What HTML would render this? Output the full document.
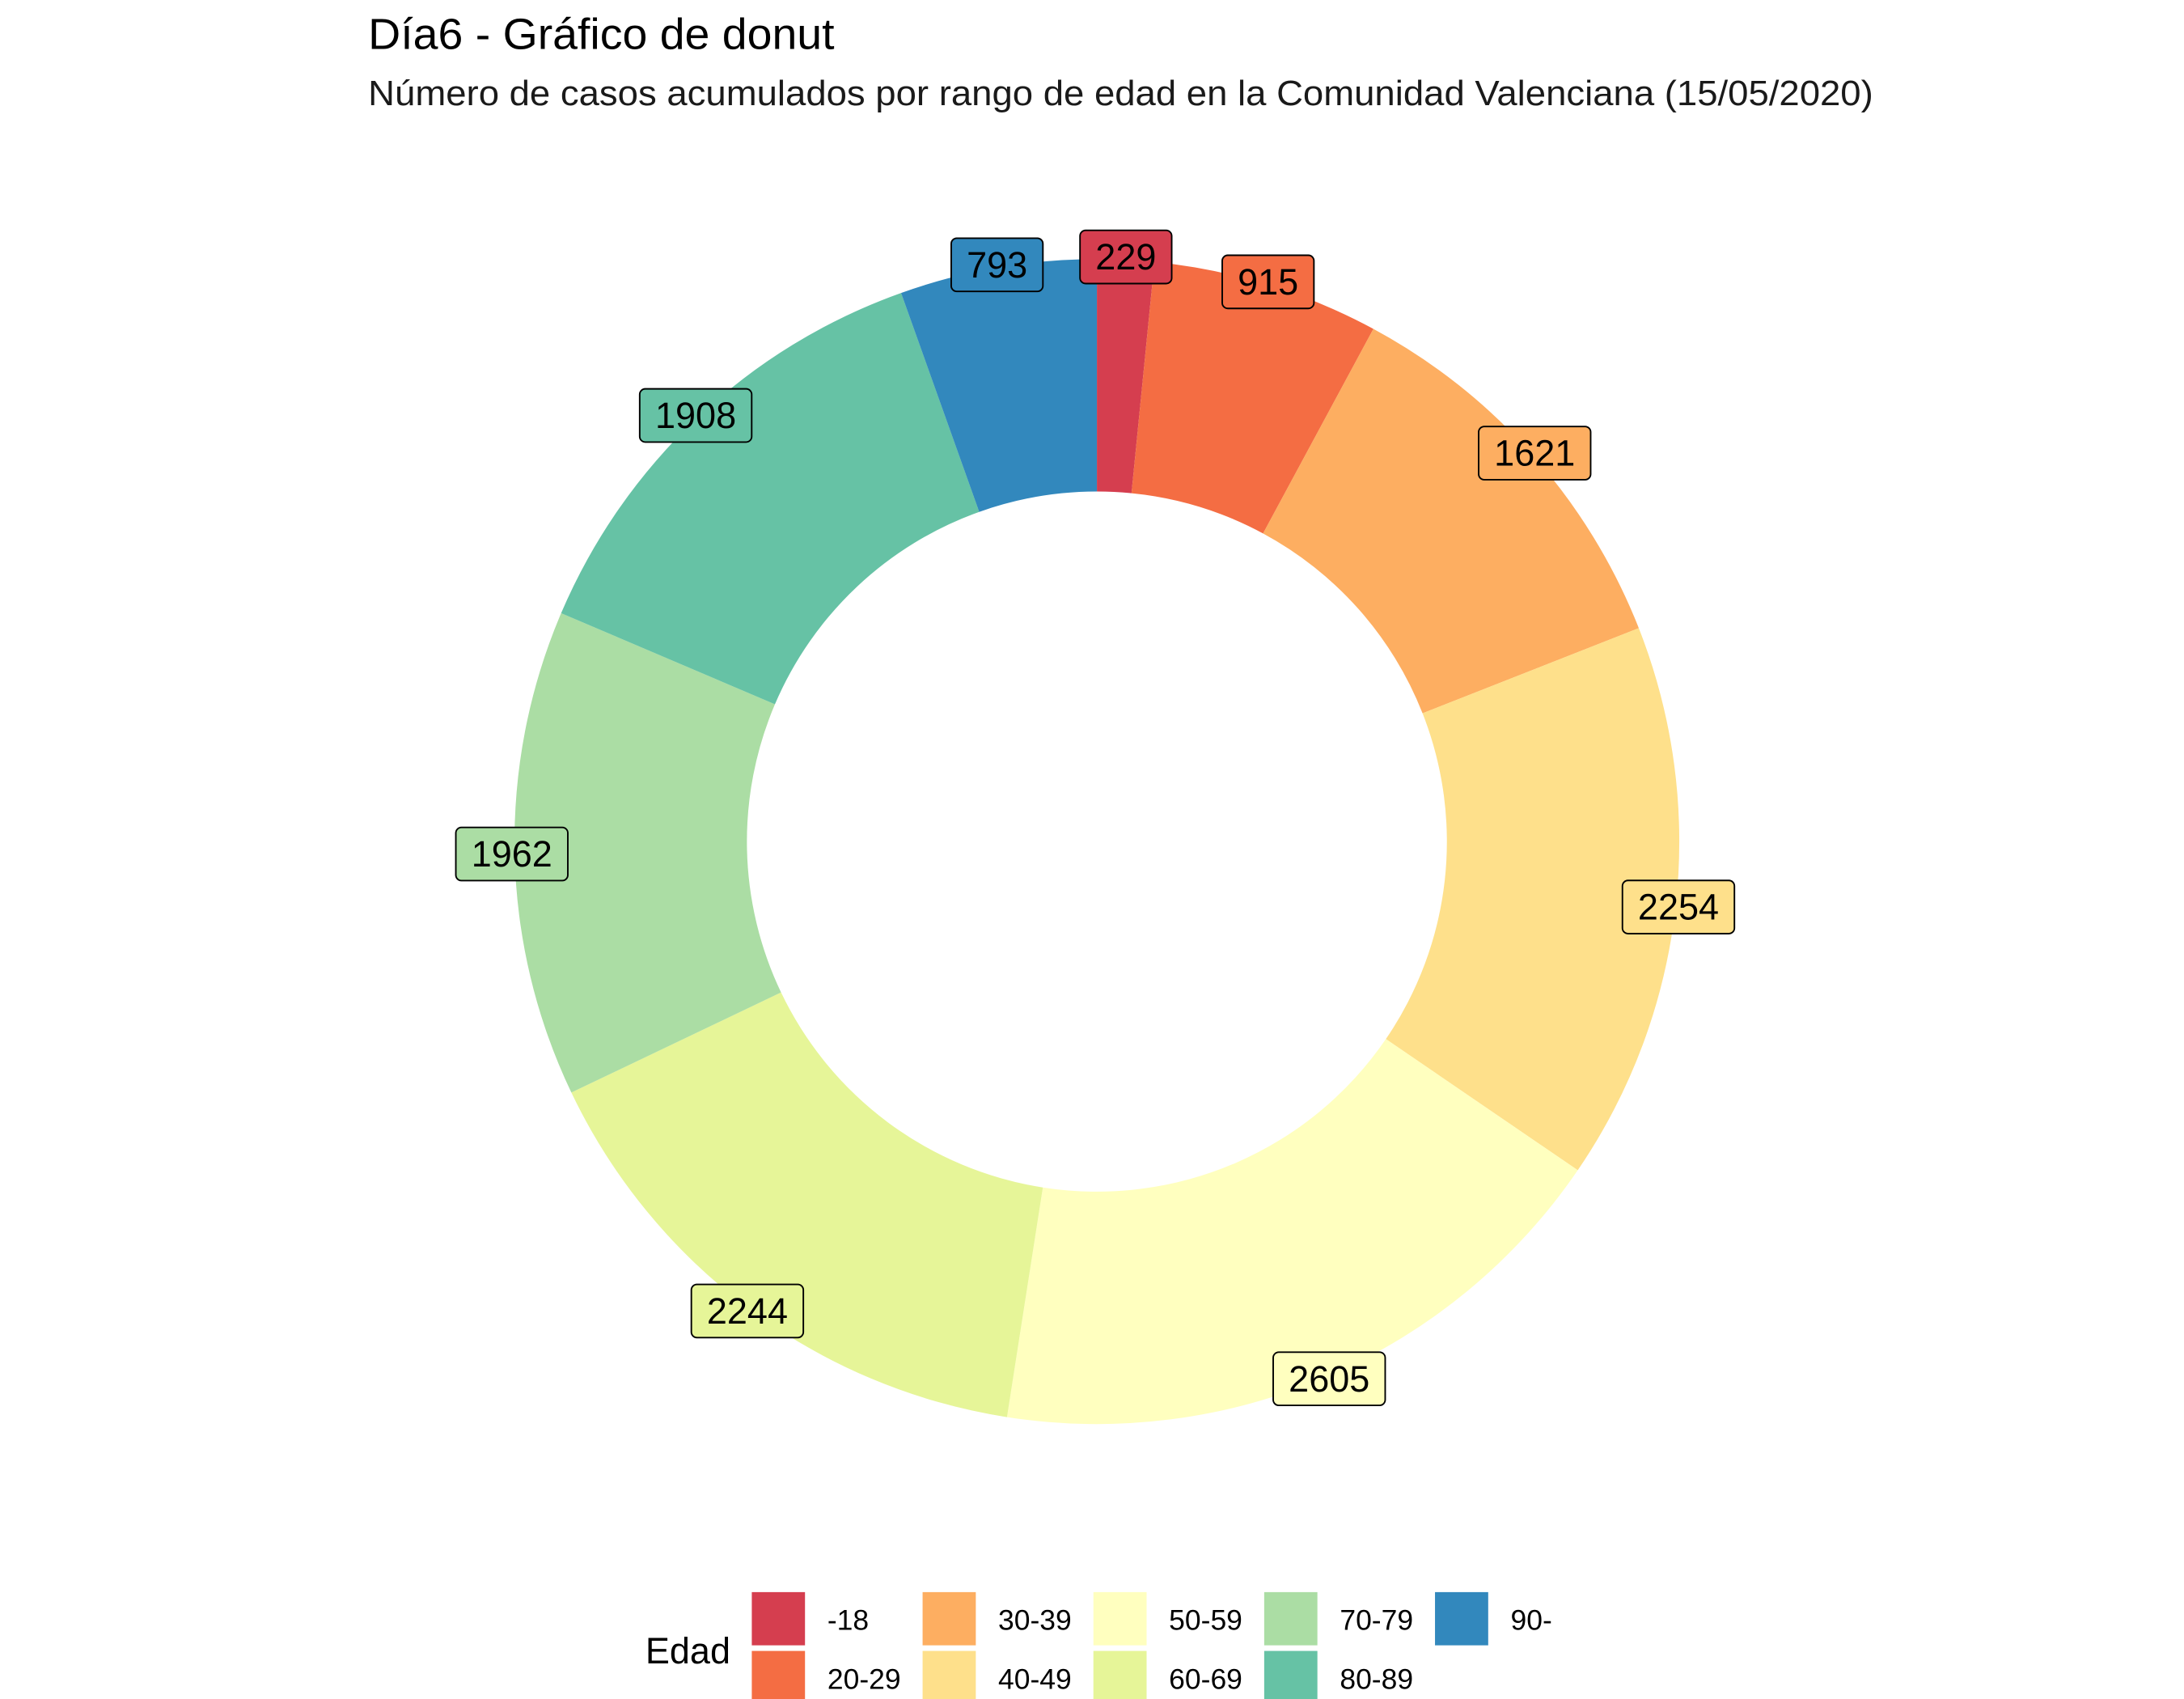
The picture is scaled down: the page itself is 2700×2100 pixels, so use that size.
<!DOCTYPE html>
<html><head><meta charset="utf-8">
<style>
html,body{margin:0;padding:0;background:#fff;}
svg{display:block;font-family:"Liberation Sans",sans-serif;}
</style></head>
<body>
<svg id="chart" width="2700" height="2100" viewBox="0 0 1560 1213.33" preserveAspectRatio="none" xmlns="http://www.w3.org/2000/svg">
<text x="263" y="35" font-size="31" fill="#000" textLength="333" lengthAdjust="spacingAndGlyphs">Día6 - Gráfico de donut</text>
<text x="263" y="75" font-size="25" fill="#1a1a1a" textLength="1075" lengthAdjust="spacingAndGlyphs">Número de casos acumulados por rango de edad en la Comunidad Valenciana (15/05/2020)</text>
<g id="slices"></g>
<g id="labels"></g>
<g id="legend">
<text x="461" y="1188" font-size="26" fill="#000">Edad</text>
</g>
</svg>
<script>
const categories = ["-18","20-29","30-39","40-49","50-59","60-69","70-79","80-89","90-"];
const values = [229,915,1621,2254,2605,2244,1962,1908,793];
const colors = ["#D53E4F","#F46D43","#FDAE61","#FEE08B","#FFFFBF","#E6F598","#ABDDA4","#66C2A5","#3288BD"];
const NS="http://www.w3.org/2000/svg";
const cx=783.5, cy=601, rOut=416, rIn=250, rLab=418;
const total=values.reduce((a,b)=>a+b,0);
function ang(v){return v/total*2*Math.PI;}
function pt(a,r){return [cx+r*Math.sin(a), cy-r*Math.cos(a)];}
const gS=document.getElementById('slices'), gL=document.getElementById('labels'), gLg=document.getElementById('legend');
let cum=0;
values.forEach((v,i)=>{
  const a0=ang(cum), a1=ang(cum+v); cum+=v;
  const large=(a1-a0)>Math.PI?1:0;
  const p0=pt(a0,rOut),p1=pt(a1,rOut),p2=pt(a1,rIn),p3=pt(a0,rIn);
  const path=document.createElementNS(NS,'path');
  path.setAttribute('d',`M${p0[0]},${p0[1]} A${rOut},${rOut} 0 ${large} 1 ${p1[0]},${p1[1]} L${p2[0]},${p2[1]} A${rIn},${rIn} 0 ${large} 0 ${p3[0]},${p3[1]} Z`);
  path.setAttribute('fill',colors[i]);
  
  
  gS.appendChild(path);
});
cum=0;
values.forEach((v,i)=>{
  const am=ang(cum+v/2); cum+=v;
  const p=pt(am,rLab);
  const txt=String(v);
  const w=txt.length*14.5+22, h=38;
  const g=document.createElementNS(NS,'g');
  
  
  const r=document.createElementNS(NS,'rect');
  r.setAttribute('x',p[0]-w/2); r.setAttribute('y',p[1]-h/2);
  r.setAttribute('width',w); r.setAttribute('height',h);
  r.setAttribute('rx',4); r.setAttribute('fill',colors[i]);
  r.setAttribute('stroke','#000'); r.setAttribute('stroke-width',1.1);
  const t=document.createElementNS(NS,'text');
  t.setAttribute('x',p[0]); t.setAttribute('y',p[1]+9);
  t.setAttribute('text-anchor','middle'); t.setAttribute('font-size',26);
  t.textContent=txt;
  g.appendChild(r); g.appendChild(t); gL.appendChild(g);
});
categories.forEach((c,i)=>{
  const col=Math.floor(i/2), row=i%2;
  const x=537+col*122, y=1137+row*42;
  const g=document.createElementNS(NS,'g');
  
  
  const r=document.createElementNS(NS,'rect');
  r.setAttribute('x',x); r.setAttribute('y',y); r.setAttribute('width',38); r.setAttribute('height',38);
  r.setAttribute('fill',colors[i]);
  const t=document.createElementNS(NS,'text');
  t.setAttribute('x',x+54); t.setAttribute('y',y+27); t.setAttribute('font-size',20.5);
  t.textContent=c;
  g.appendChild(r); g.appendChild(t); gLg.appendChild(g);
});
</script>
</body></html>
